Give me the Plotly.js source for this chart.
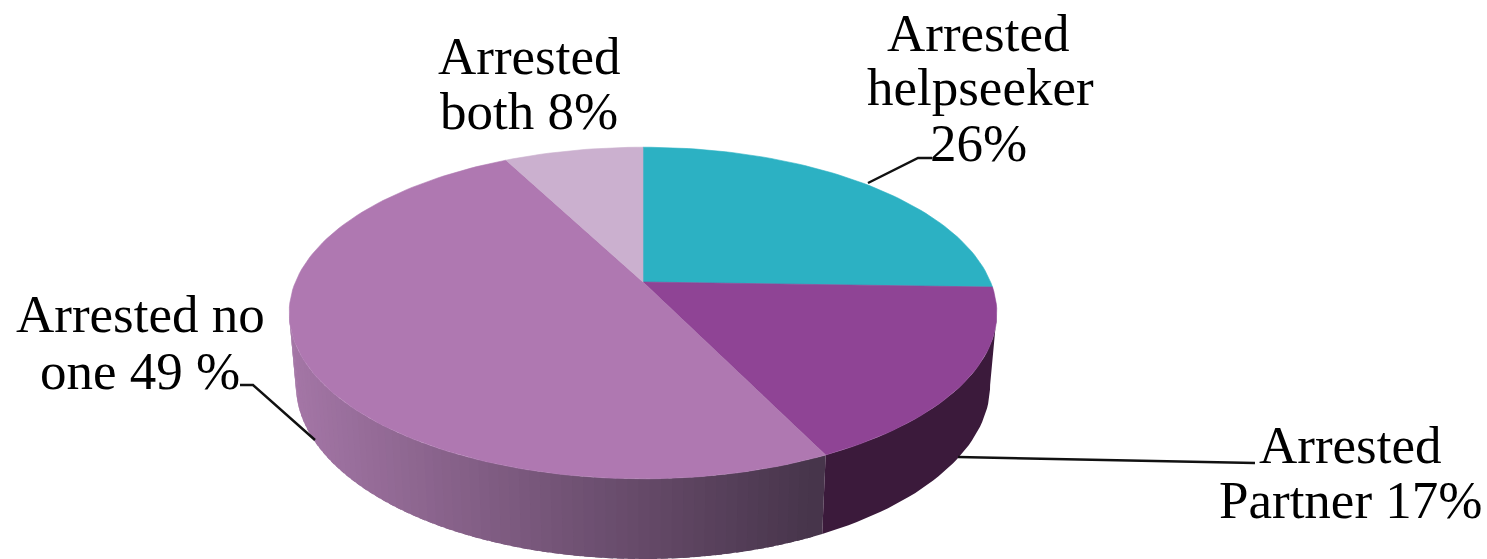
<!DOCTYPE html>
<html>
<head>
<meta charset="utf-8">
<script src="https://cdn.plot.ly/plotly-3.0.1.min.js"></script>
<style>html,body{margin:0;padding:0;background:#fff;overflow:hidden}#chart{width:1487px;height:559px}</style>
</head>
<body>
<div id="chart"></div>
<script>
// ---- chart data (slice sizes as drawn in the picture) ----
const categories = ["Arrested helpseeker", "Arrested Partner", "Arrested no one", "Arrested both"];
const shares = [25.5, 17.3, 49.6, 7.6];
const sliceColors = ["#2CB1C3", "#8F4495", "#AF78B1", "#CBB0CF"];

// ---- labels, one entry per text line ----
const labelLines = ["Arrested", "both 8%", "Arrested", "helpseeker", "26%", "Arrested no", "one 49 %", "Arrested", "Partner 17%"];
const labelX = [529, 529, 978, 980, 978, 140, 140, 1350, 1350];
const labelBase = [73, 128, 50, 104, 160, 331, 388, 462, 517];

// ---- leader lines ----
const leaderX = [[868, 918, 932], [958, 1255], [315, 253, 240]];
const leaderY = [[183, 158, 158], [457, 463], [440, 385, 385]];

// ---- projection of the tilted disc ----
const top_ = {cx: 643, cy: 282, A: 347.6, B: 160};
const bot = {cx: 643, cy: 352.5, A: 341, B: 167.9};
const K = 0.187;
const silhouette = Math.acos(-K) * 180 / Math.PI;
const project = (p, deg) => {
  const t = deg * Math.PI / 180, u = Math.sin(t), v = Math.cos(t), d = 1 + K * v;
  return [p.cx + p.A * u / d, p.cy - p.B * v / d];
};
const arc = (p, a, b) => {
  const n = Math.max(2, Math.ceil(Math.abs(b - a) / 1.5)), out = [];
  for (let i = 0; i <= n; i++) out.push(project(p, a + (b - a) * i / n));
  return out;
};
const mix = (c1, c2, f) => "rgb(" + c1.map((c, i) => Math.round(c + (c2[i] - c) * f)).join(",") + ")";

const traces = [];
const total = shares.reduce((a, b) => a + b, 0);
const edges = [0];
shares.forEach(s => edges.push(edges[edges.length - 1] + s / total * 360));

function poly(pts, color, name, lw) {
  traces.push({
    type: "scatter", mode: "lines", fill: "toself", fillcolor: color, name: name, hoverinfo: "name",
    x: pts.map(p => p[0]), y: pts.map(p => p[1]),
    line: {color: color, width: lw}
  });
}

// side wall: shaded slice (no one) built of narrow overlapping bands,
// drawn from the far left end toward the slice edge so each band covers the seam of the last
const wallDark = [70, 52, 74], wallLight = [164, 118, 166];
const stepDeg = 1.5;
const wallEnd = 360 - silhouette;
const starts = [];
for (let d = edges[2]; d < wallEnd; d += stepDeg) starts.push(d);
starts.reverse().forEach(d => {
  const e = Math.min(d + stepDeg, wallEnd);
  const ov = Math.min(e + 1, wallEnd);
  const a = arc(top_, d, ov), b = arc(bot, d, ov).reverse();
  const xm = project(top_, (d + e) / 2)[0];
  const f = Math.max(0, Math.min(1, (825 - xm) / (825 - 292)));
  poly(a.concat(b), mix(wallDark, wallLight, f), categories[2], 0);
});
// side wall: dark slice (Partner), from the rim's right extreme to its edge
{
  const a = arc(top_, silhouette, edges[2]), b = arc(bot, silhouette, edges[2]).reverse();
  poly(a.concat(b), "#3B1A3B", categories[1], 0);
}
// top faces
shares.forEach((s, i) => {
  const pts = [[top_.cx, top_.cy]].concat(arc(top_, edges[i], edges[i + 1]));
  pts.push([top_.cx, top_.cy]);
  poly(pts, sliceColors[i], categories[i], 0.6);
});
// leader lines
leaderX.forEach((xs, i) => traces.push({
  type: "scatter", mode: "lines", x: xs, y: leaderY[i], hoverinfo: "skip",
  line: {color: "#111", width: 2.5}
}));

const FS = 53;
const annotations = labelLines.map((t, i) => ({
  text: t, x: labelX[i], y: labelBase[i], xref: "x", yref: "y",
  xanchor: "center", yanchor: "bottom", yshift: -14, showarrow: false,
  font: {family: "'Liberation Serif', serif", size: FS, color: "#000"}
}));

Plotly.newPlot("chart", traces, {
  width: 1487, height: 559, showlegend: false,
  margin: {l: 0, r: 0, t: 0, b: 0},
  paper_bgcolor: "#fff", plot_bgcolor: "#fff",
  xaxis: {range: [0, 1487], visible: false, fixedrange: true},
  yaxis: {range: [559, 0], visible: false, fixedrange: true},
  annotations
}, {displayModeBar: false, staticPlot: true});
</script>
</body>
</html>
